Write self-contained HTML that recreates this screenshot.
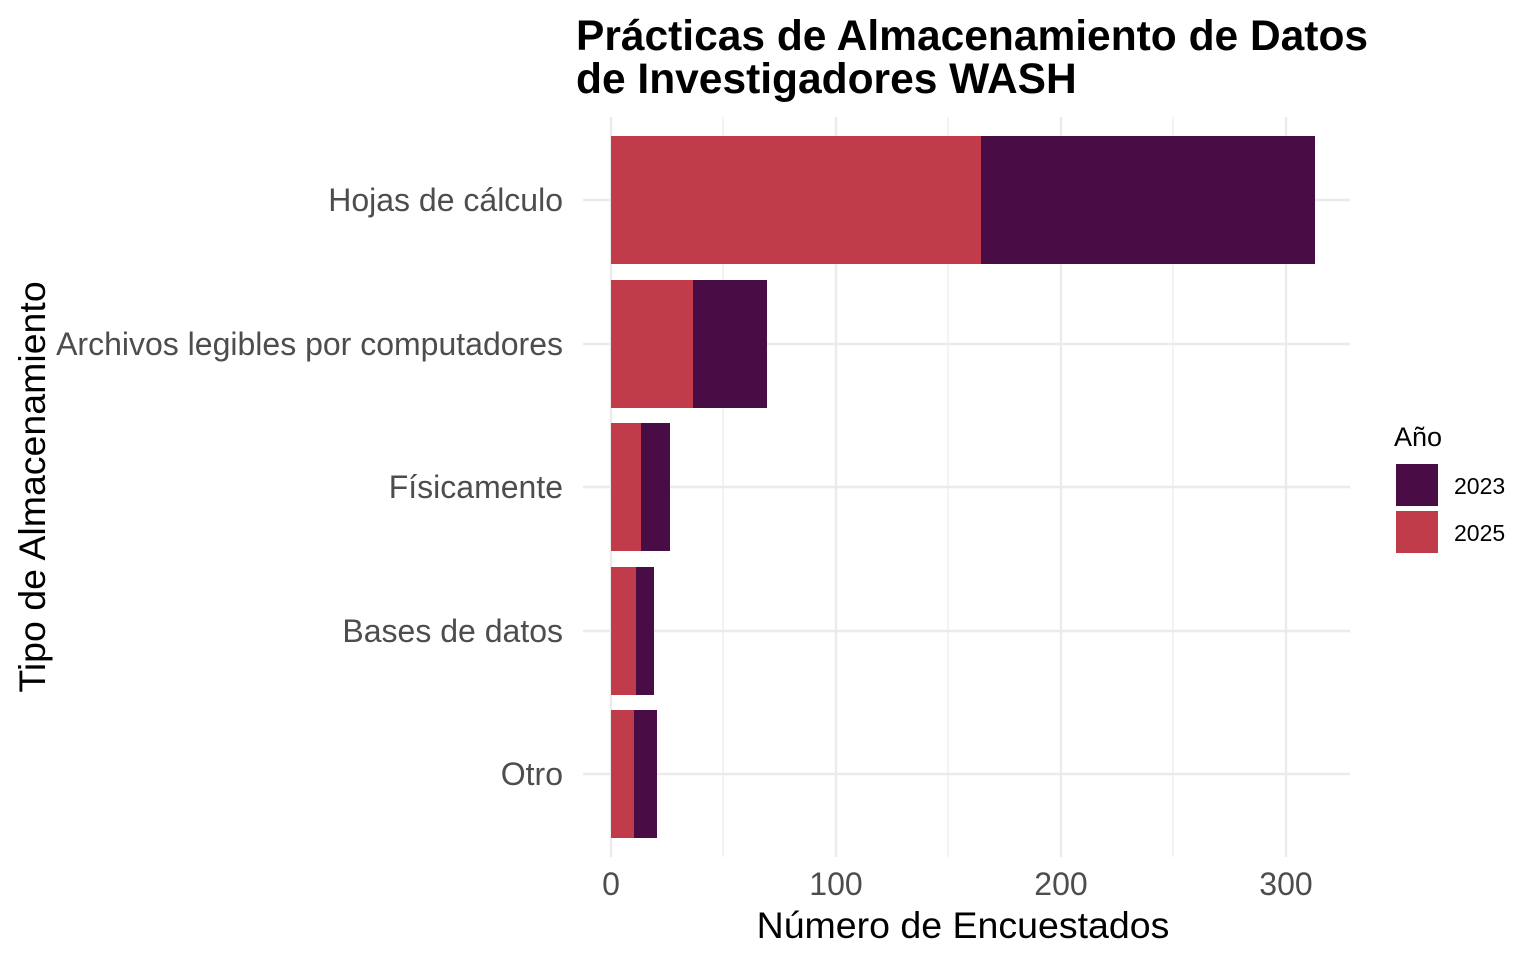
<!DOCTYPE html>
<html><head><meta charset="utf-8"><style>body{margin:0;background:#fff}</style></head><body>
<svg width="1536" height="960" xmlns="http://www.w3.org/2000/svg" font-family="Liberation Sans, Arial, sans-serif">
<rect width="1536" height="960" fill="#fff"/>
<g stroke="#ebebeb" stroke-width="1.2">
<line x1="723" y1="117" x2="723" y2="857"/><line x1="948" y1="117" x2="948" y2="857"/><line x1="1173" y1="117" x2="1173" y2="857"/>
</g>
<g stroke="#ebebeb" stroke-width="2.4">
<line x1="611" y1="117" x2="611" y2="857"/><line x1="836" y1="117" x2="836" y2="857"/><line x1="1061" y1="117" x2="1061" y2="857"/><line x1="1286" y1="117" x2="1286" y2="857"/>
<line x1="583" y1="200" x2="1350" y2="200"/><line x1="583" y1="344" x2="1350" y2="344"/><line x1="583" y1="487" x2="1350" y2="487"/><line x1="583" y1="631" x2="1350" y2="631"/><line x1="583" y1="774" x2="1350" y2="774"/>
</g>
<g fill="#c03c4a">
<rect x="611" y="136" width="370" height="128"/><rect x="611" y="280" width="82" height="128"/><rect x="611" y="423" width="30" height="128"/><rect x="611" y="567" width="25" height="128"/><rect x="611" y="710" width="23" height="128"/>
</g>
<g fill="#4a0c45">
<rect x="981" y="136" width="334" height="128"/><rect x="693" y="280" width="74" height="128"/><rect x="641" y="423" width="29" height="128"/><rect x="636" y="567" width="18" height="128"/><rect x="634" y="710" width="23" height="128"/>
</g>
<g fill="#4d4d4d" font-size="32" text-anchor="end">
<text x="563" y="211">Hojas de cálculo</text><text x="563" y="355">Archivos legibles por computadores</text><text x="563" y="498">Físicamente</text><text x="563" y="642">Bases de datos</text><text x="563" y="785">Otro</text>
</g>
<g fill="#4d4d4d" font-size="32" text-anchor="middle">
<text x="611" y="895">0</text><text x="836" y="895">100</text><text x="1061" y="895">200</text><text x="1286" y="895">300</text>
</g>
<text x="963" y="938" font-size="37.5" text-anchor="middle">Número de Encuestados</text>
<text transform="translate(45,487) rotate(-90)" font-size="37.5" text-anchor="middle">Tipo de Almacenamiento</text>
<text x="576" y="50" font-size="42.5" font-weight="bold">Prácticas de Almacenamiento de Datos</text>
<text x="576" y="93" font-size="42.5" font-weight="bold">de Investigadores WASH</text>
<text x="1394" y="446" font-size="27">Año</text>
<rect x="1396" y="464" width="42" height="42" fill="#4a0c45"/><rect x="1396" y="511" width="42" height="42" fill="#c03c4a"/>
<text x="1454" y="494" font-size="23">2023</text><text x="1454" y="541" font-size="23">2025</text>
</svg>
</body></html>
